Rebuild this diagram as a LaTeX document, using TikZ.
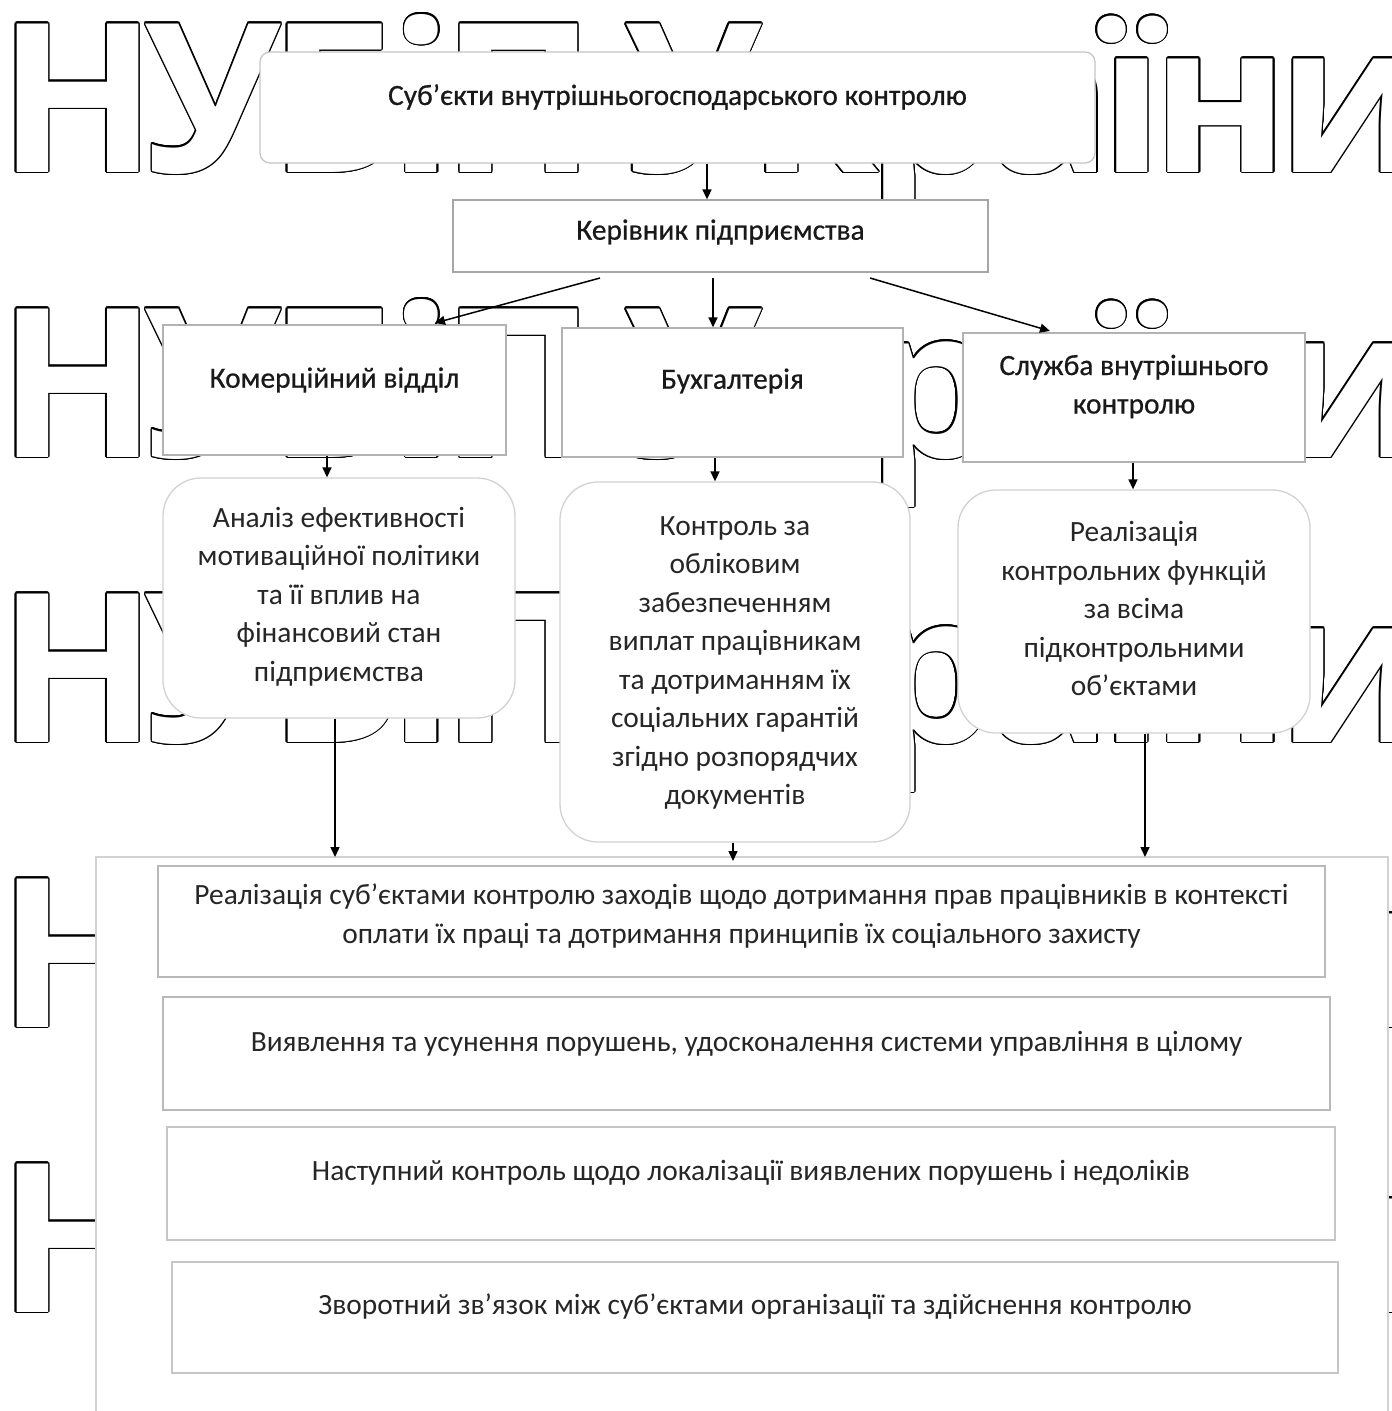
\documentclass[tikz,border=0pt]{standalone}
\usepackage{fontspec}
\setmainfont{Carlito}
\newfontfamily\semib{Carlito}[FakeBold=0.6]
\newfontfamily\wmfont{Open Sans}[BoldFont={* Bold}]
\usetikzlibrary{arrows.meta,calc}
\newcommand\wk{\kern-12pt}
\newcommand\wmtext{Н\wk У\wk Б\wk і\wk П\wk\ \wk У\wk к\wk р\wk а\wk ї\wk н\wk и}
\begin{document}
\begin{tikzpicture}[x=1pt,y=-1pt,
  wm/.style={anchor=base west,inner sep=0pt,font=\wmfont\bfseries\fontsize{208}{208}\selectfont},
  box/.style={draw=gray!60,line width=1.3pt,fill=white,inner sep=0pt},
  rbox/.style={box,rounded corners=38pt,draw=gray!35},
  lbox/.style={box,draw=gray!55,line width=1.6pt},
  txt/.style={align=center,inner sep=0pt,text=black!85,font=\fontsize{29.4}{38.5}\selectfont},
  htxt/.style={txt,text=black!90,font=\semib\fontsize{29.4}{38.5}\selectfont},
  arr/.style={-{Triangle[length=10pt,width=9pt]},line width=1.5pt,black}]
\useasboundingbox (0,0) rectangle (1392,1411);
\fill[white] (0,0) rectangle (1392,1411);
% watermark
\foreach \yb in {172,457,742,1027,1312}{
  \foreach \a in {0,20,...,340}
    \node[wm,text=black] at ($(-2,\yb)+(\a:1.4)$) {\wmtext};
  \node[wm,text=white] at (-2,\yb) {\wmtext};
}
% top boxes
\node[box,rounded corners=10pt,draw=gray!45,minimum width=835pt,minimum height=111pt] (subj) at (677.5,107.5) {};
\node[htxt] (subjt) at (677.5,97) {Суб’єкти внутрішньогосподарського контролю};
\node[box,draw=gray!70,minimum width=535pt,minimum height=72pt] (ker) at (720.5,236) {};
\node[htxt] (kert) at (720.5,232) {Керівник підприємства};
\node[box,minimum width=343pt,minimum height=130pt] (kom) at (334.5,390) {};
\node[htxt] at (334.5,380) {Комерційний відділ};
\node[box,minimum width=341pt,minimum height=129pt] (bux) at (732.5,392.5) {};
\node[htxt] at (732.5,381) {Бухгалтерія};
\node[box,minimum width=342pt,minimum height=129pt] (sl) at (1134,397.5) {};
\node[htxt] at (1134,386.5) {Служба внутрішнього\\контролю};
% rounded boxes
\node[rbox,minimum width=352pt,minimum height=240pt] (an) at (339,598) {};
\node[txt] at (339,596.5) {Аналіз ефективності\\мотиваційної політики\\та її вплив на\\фінансовий стан\\підприємства};
\node[rbox,minimum width=350pt,minimum height=360pt] (ko) at (735,662) {};
\node[txt] at (735,663) {Контроль за\\обліковим\\забезпеченням\\виплат працівникам\\та дотриманням їх\\соціальних гарантій\\згідно розпорядчих\\документів};
\node[rbox,minimum width=352pt,minimum height=243pt] (re) at (1134,611.5) {};
\node[txt] at (1134,608.5) {Реалізація\\контрольних функцій\\за всіма\\підконтрольними\\об’єктами};
% bottom frame
\draw[draw=gray!35,line width=1.3pt,fill=white] (96,857) rectangle (1388,1430);
\coordinate (fr) at (96,857);
\node[lbox,minimum width=1167pt,minimum height=111pt] (b1) at (741.5,921.5) {};
\node[txt] at (741.5,916) {Реалізація суб’єктами контролю заходів щодо дотримання прав працівників в контексті\\оплати їх праці та дотримання принципів їх соціального захисту};
\node[lbox,minimum width=1167pt,minimum height=113pt] (b2) at (746.5,1053.5) {};
\node[txt] at (746.5,1044) {Виявлення та усунення порушень, удосконалення системи управління в цілому};
\node[lbox,draw=gray!45,minimum width=1168pt,minimum height=113pt] (b3) at (751,1183.5) {};
\node[txt] at (751,1173) {Наступний контроль щодо локалізації виявлених порушень і недоліків};
\node[lbox,draw=gray!45,minimum width=1166pt,minimum height=111pt] (b4) at (755,1317.5) {};
\node[txt] at (755,1307) {Зворотний зв'язок між суб’єктами організації та здійснення контролю};
% arrows
\draw[arr] (subj.south -| 707,0) -- (ker.north -| 707,0);
\coordinate (k1) at (600,278);
\coordinate (k2) at (713,278);
\coordinate (k3) at (870,278);
\draw[arr] (k1) -- (435,323);
\draw[arr] (k2) -- (bux.north -| k2);
\draw[arr] (k3) -- (1050,331);
\draw[arr] (kom.south -| 327,0) -- (an.north -| 327,0);
\draw[arr] (bux.south -| 715,0) -- (ko.north -| 715,0);
\draw[arr] (sl.south -| 1133,0) -- (re.north -| 1133,0);
\draw[arr] (an.south -| 335,0) -- (fr -| 335,0);
\draw[arr] (ko.south -| 733,0) -- (733,861);
\draw[arr] (re.south -| 1145,0) -- (fr -| 1145,0);
\end{tikzpicture}
\end{document}
